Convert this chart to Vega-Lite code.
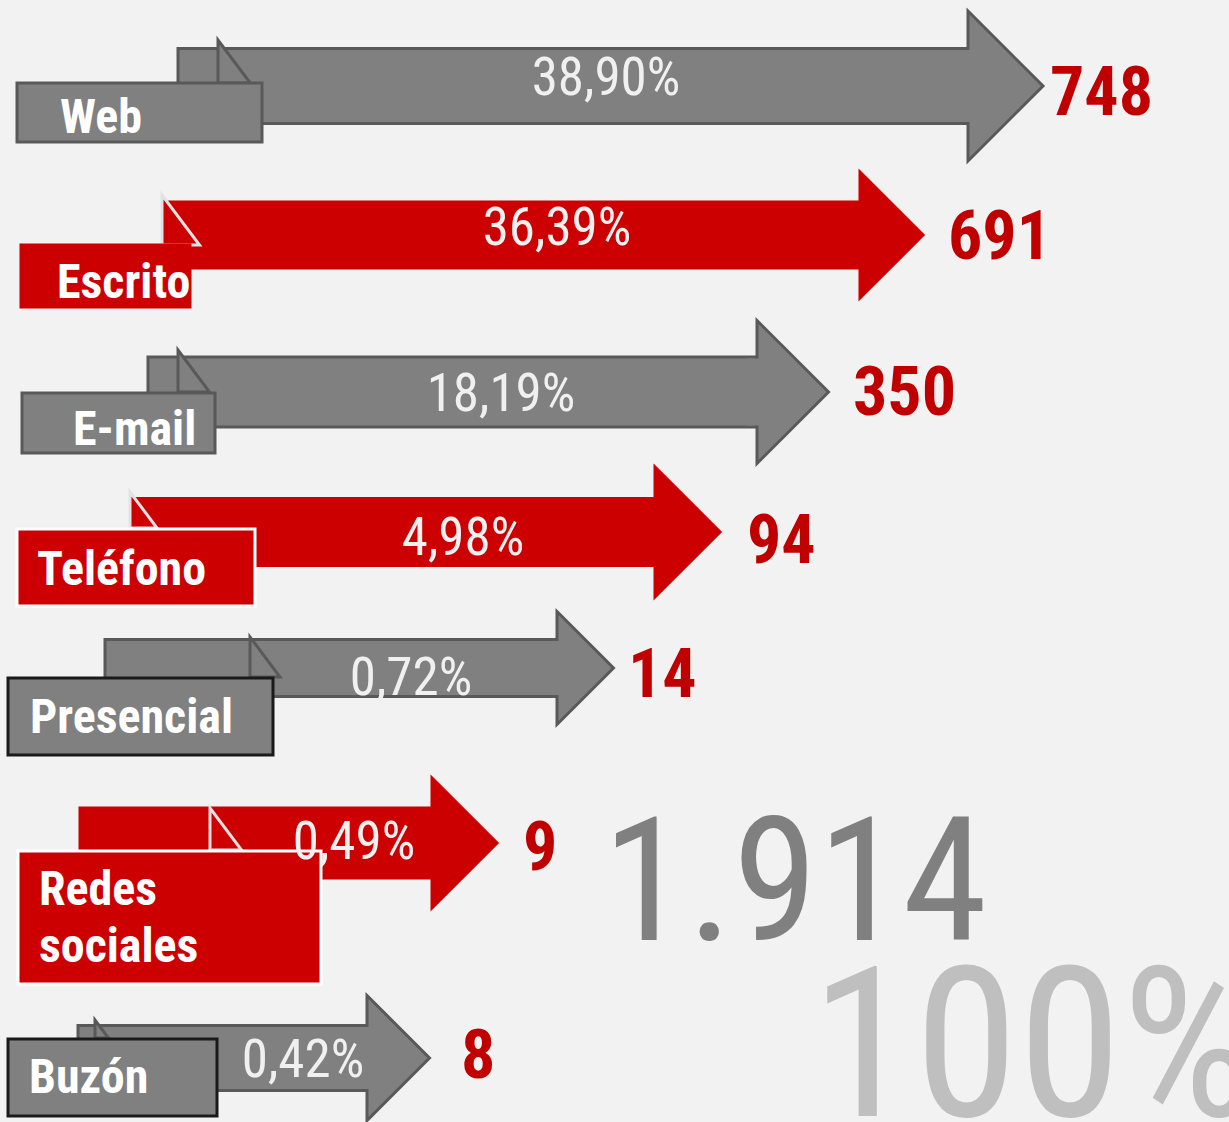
{
  "$schema": "https://vega.github.io/schema/vega-lite/v6.json",
  "width": 1229,
  "height": 1122,
  "padding": 0,
  "autosize": {"type": "none"},
  "background": "#f2f2f2",
  "config": {
    "view": {"stroke": null},
    "locale": {"number": {"decimal": ",", "thousands": ".", "grouping": [3], "currency": ["", " €"]}}
  },
  "data": {
    "values": [
      {"canal": "Web", "value": 748, "pct": 0.389},
      {"canal": "Escrito", "value": 691, "pct": 0.3639},
      {"canal": "E-mail", "value": 350, "pct": 0.1819},
      {"canal": "Teléfono", "value": 94, "pct": 0.0498},
      {"canal": "Presencial", "value": 14, "pct": 0.0072},
      {"canal": "Redes sociales", "value": 9, "pct": 0.0049},
      {"canal": "Buzón", "value": 8, "pct": 0.0042}
    ]
  },
  "layer": [
    {
      "mark": {"type": "bar", "strokeWidth": 3, "strokeJoin": "miter"},
      "encoding": {
        "x": {"field": "pct", "type": "quantitative", "axis": null,
          "scale": {"domain": [0.0042, 0.0049, 0.0072, 0.0498, 0.1819, 0.3639, 0.389, 8, 9, 14, 94, 350, 691, 748],
                    "range": [78, 80, 105, 132, 148, 165, 178, 367, 432, 557, 655, 757, 860, 968], "zero": false, "nice": false, "padding": 0}},
        "x2": {"field": "value"},
        "y": {"field": "value", "type": "quantitative", "axis": null,
          "scale": {"domain": [8, 9, 14, 94, 350, 691, 748], "range": [1058, 843, 668, 532, 392, 235, 86], "zero": false, "nice": false, "padding": 0}},
        "size": {"field": "value", "type": "quantitative", "legend": null,
          "scale": {"domain": [8, 9, 14, 94, 350, 691, 748], "range": [65, 70, 57, 67, 70, 66, 75], "zero": false, "nice": false}},
        "color": {"field": "canal", "type": "nominal", "legend": null,
          "scale": {"domain": ["Web", "Escrito", "E-mail", "Teléfono", "Presencial", "Redes sociales", "Buzón"],
                    "range": ["#808080", "#cc0000", "#808080", "#cc0000", "#808080", "#cc0000", "#808080"]}},
        "stroke": {"field": "canal", "type": "nominal", "legend": null,
          "scale": {"domain": ["Web", "Escrito", "E-mail", "Teléfono", "Presencial", "Redes sociales", "Buzón"],
                    "range": ["#595959", "#cc0000", "#595959", "#cc0000", "#595959", "#cc0000", "#595959"]}}
      }
    },
    {
      "mark": {"type": "point", "shape": "M0,-1L1,0L0,1Z", "filled": true, "opacity": 1, "strokeWidth": 3, "strokeJoin": "miter"},
      "encoding": {
        "x": {"field": "value", "type": "quantitative", "axis": null,
          "scale": {"domain": [0.0042, 0.0049, 0.0072, 0.0498, 0.1819, 0.3639, 0.389, 8, 9, 14, 94, 350, 691, 748],
                    "range": [78, 80, 105, 132, 148, 165, 178, 367, 432, 557, 655, 757, 860, 968], "zero": false, "nice": false, "padding": 0}},
        "y": {"field": "value", "type": "quantitative", "axis": null,
          "scale": {"domain": [8, 9, 14, 94, 350, 691, 748], "range": [1058, 843, 668, 532, 392, 235, 86], "zero": false, "nice": false, "padding": 0}},
        "size": {"field": "value", "type": "quantitative", "legend": null,
          "scale": {"domain": [8, 9, 14, 94, 350, 691, 748], "range": [15625, 16900, 12769, 16900, 20449, 15876, 22500], "zero": false, "nice": false}},
        "color": {"field": "canal", "type": "nominal", "legend": null,
          "scale": {"domain": ["Web", "Escrito", "E-mail", "Teléfono", "Presencial", "Redes sociales", "Buzón"],
                    "range": ["#808080", "#cc0000", "#808080", "#cc0000", "#808080", "#cc0000", "#808080"]}},
        "stroke": {"field": "canal", "type": "nominal", "legend": null,
          "scale": {"domain": ["Web", "Escrito", "E-mail", "Teléfono", "Presencial", "Redes sociales", "Buzón"],
                    "range": ["#595959", "#cc0000", "#595959", "#cc0000", "#595959", "#cc0000", "#595959"]}}
      }
    },
    {
      "mark": {"type": "bar", "strokeWidth": 0, "xOffset": -10, "x2Offset": 3},
      "encoding": {
        "x": {"field": "value", "type": "quantitative", "axis": null,
          "scale": {"domain": [0.0042, 0.0049, 0.0072, 0.0498, 0.1819, 0.3639, 0.389, 8, 9, 14, 94, 350, 691, 748],
                    "range": [78, 80, 105, 132, 148, 165, 178, 367, 432, 557, 655, 757, 860, 968], "zero": false, "nice": false, "padding": 0}},
        "x2": {"field": "value"},
        "y": {"field": "value", "type": "quantitative", "axis": null,
          "scale": {"domain": [8, 9, 14, 94, 350, 691, 748], "range": [1058, 843, 668, 532, 392, 235, 86], "zero": false, "nice": false, "padding": 0}},
        "size": {"field": "value", "type": "quantitative", "legend": null,
          "scale": {"domain": [8, 9, 14, 94, 350, 691, 748], "range": [62, 67, 54, 64, 67, 63, 72], "zero": false, "nice": false}},
        "color": {"field": "canal", "type": "nominal", "legend": null,
          "scale": {"domain": ["Web", "Escrito", "E-mail", "Teléfono", "Presencial", "Redes sociales", "Buzón"],
                    "range": ["#808080", "#cc0000", "#808080", "#cc0000", "#808080", "#cc0000", "#808080"]}}
      }
    },
    {
      "mark": {"type": "point", "shape": "M0,-1L0,1L1.5,1Z", "filled": true, "opacity": 1, "strokeWidth": 3, "strokeJoin": "miter"},
      "encoding": {
        "x": {"field": "value", "type": "quantitative", "axis": null,
          "scale": {"domain": [8, 9, 14, 94, 350, 691, 748], "range": [95, 210, 250, 130, 178, 162, 218], "zero": false, "nice": false, "padding": 0}},
        "y": {"field": "value", "type": "quantitative", "axis": null,
          "scale": {"domain": [8, 9, 14, 94, 350, 691, 748], "range": [1029, 829, 657, 510, 371, 220, 61.5], "zero": false, "nice": false, "padding": 0}},
        "size": {"field": "value", "type": "quantitative", "legend": null,
          "scale": {"domain": [8, 9, 14, 94, 350, 691, 748], "range": [324, 1764, 1600, 1296, 1764, 2500, 1849], "zero": false, "nice": false}},
        "color": {"field": "canal", "type": "nominal", "legend": null,
          "scale": {"domain": ["Web", "Escrito", "E-mail", "Teléfono", "Presencial", "Redes sociales", "Buzón"],
                    "range": ["#808080", "#cc0000", "#808080", "#cc0000", "#808080", "#cc0000", "#808080"]}},
        "stroke": {"field": "canal", "type": "nominal", "legend": null,
          "scale": {"domain": ["Web", "Escrito", "E-mail", "Teléfono", "Presencial", "Redes sociales", "Buzón"],
                    "range": ["#595959", "#e2e2e2", "#595959", "#e2e2e2", "#595959", "#e2e2e2", "#595959"]}}
      }
    },
    {
      "mark": {"type": "bar", "strokeWidth": 3, "strokeJoin": "miter"},
      "encoding": {
        "x": {"field": "pct", "type": "quantitative", "axis": null,
          "scale": {"domain": [0.0042, 0.0049, 0.0072, 0.0498, 0.1819, 0.3639, 0.389, 8, 9, 14, 94, 350, 691, 748],
                    "range": [8, 18, 8, 17, 22, 21, 17, 217, 321, 273, 255, 215, 190, 262], "zero": false, "nice": false, "padding": 0}},
        "x2": {"field": "value"},
        "y": {"field": "value", "type": "quantitative", "axis": null,
          "scale": {"domain": [8, 9, 14, 94, 350, 691, 748], "range": [1077.5, 917.5, 716.5, 567.5, 423, 276, 112.5], "zero": false, "nice": false, "padding": 0}},
        "size": {"field": "value", "type": "quantitative", "legend": null,
          "scale": {"domain": [8, 9, 14, 94, 350, 691, 748], "range": [77, 133, 77, 77, 60, 62, 59], "zero": false, "nice": false}},
        "color": {"field": "canal", "type": "nominal", "legend": null,
          "scale": {"domain": ["Web", "Escrito", "E-mail", "Teléfono", "Presencial", "Redes sociales", "Buzón"],
                    "range": ["#808080", "#cc0000", "#808080", "#cc0000", "#808080", "#cc0000", "#808080"]}},
        "stroke": {"field": "canal", "type": "nominal", "legend": null,
          "scale": {"domain": ["Web", "Escrito", "E-mail", "Teléfono", "Presencial", "Redes sociales", "Buzón"],
                    "range": ["#595959", "#cc0000", "#595959", "#ffffff", "#1a1a1a", "#ffffff", "#1a1a1a"]}}
      }
    },
    {
      "mark": {"type": "text", "font": "Roboto Condensed", "fontWeight": "bold", "fontSize": 48,
               "fill": "#ffffff", "align": "left", "baseline": "alphabetic", "lineBreak": " ", "lineHeight": 57},
      "encoding": {
        "x": {"field": "value", "type": "quantitative", "axis": null,
          "scale": {"domain": [8, 9, 14, 94, 350, 691, 748], "range": [29, 39, 30, 37, 73, 57, 60], "zero": false, "nice": false}},
        "y": {"field": "value", "type": "quantitative", "axis": null,
          "scale": {"domain": [8, 9, 14, 94, 350, 691, 748], "range": [1093, 905, 733, 585, 445, 298, 133], "zero": false, "nice": false}},
        "text": {"field": "canal", "type": "nominal"}
      }
    },
    {
      "mark": {"type": "text", "font": "Roboto Condensed", "fontSize": 53,
               "fill": "#f0f0f0", "align": "center", "baseline": "alphabetic"},
      "encoding": {
        "x": {"field": "value", "type": "quantitative", "axis": null,
          "scale": {"domain": [8, 9, 14, 94, 350, 691, 748], "range": [303, 354, 411, 463, 501, 557, 606], "zero": false, "nice": false}},
        "y": {"field": "value", "type": "quantitative", "axis": null,
          "scale": {"domain": [8, 9, 14, 94, 350, 691, 748], "range": [1077, 859, 695, 555, 411, 245, 95], "zero": false, "nice": false}},
        "text": {"field": "pct", "type": "quantitative", "format": ".2%"}
      }
    },
    {
      "mark": {"type": "text", "font": "Roboto Condensed", "fontWeight": "bold", "fontSize": 68,
               "fill": "#c00000", "align": "left", "baseline": "alphabetic"},
      "encoding": {
        "x": {"field": "value", "type": "quantitative", "axis": null,
          "scale": {"domain": [8, 9, 14, 94, 350, 691, 748], "range": [461, 523, 628, 747, 853, 948, 1050], "zero": false, "nice": false}},
        "y": {"field": "value", "type": "quantitative", "axis": null,
          "scale": {"domain": [8, 9, 14, 94, 350, 691, 748], "range": [1078, 870, 697, 563, 415, 259, 115], "zero": false, "nice": false}},
        "text": {"field": "value", "type": "quantitative"}
      }
    },
    {
      "transform": [{"aggregate": [{"op": "sum", "field": "value", "as": "total"}]}],
      "mark": {"type": "text", "font": "Roboto Condensed", "fontSize": 172,
               "fill": "#808080", "align": "center", "baseline": "alphabetic"},
      "encoding": {
        "x": {"field": "total", "type": "quantitative", "axis": null, "scale": {"domain": [0, 1914], "range": [0, 795], "zero": false, "nice": false}},
        "y": {"field": "total", "type": "quantitative", "axis": null, "scale": {"domain": [0, 1914], "range": [0, 940], "zero": false, "nice": false}},
        "text": {"field": "total", "type": "quantitative", "format": ",d"}
      }
    },
    {
      "transform": [{"aggregate": [{"op": "sum", "field": "pct", "as": "totalPct"}]}],
      "mark": {"type": "text", "font": "Roboto Condensed", "fontSize": 210,
               "fill": "#bfbfbf", "align": "left", "baseline": "alphabetic"},
      "encoding": {
        "x": {"field": "totalPct", "type": "quantitative", "axis": null, "scale": {"domain": [0, 1], "range": [0, 810], "zero": false, "nice": false}},
        "y": {"field": "totalPct", "type": "quantitative", "axis": null, "scale": {"domain": [0, 1], "range": [0, 1115], "zero": false, "nice": false}},
        "text": {"field": "totalPct", "type": "quantitative", "format": ".0%"}
      }
    }
  ],
  "resolve": {"scale": {"x": "independent", "y": "independent", "size": "independent", "color": "independent", "stroke": "independent"}}
}
